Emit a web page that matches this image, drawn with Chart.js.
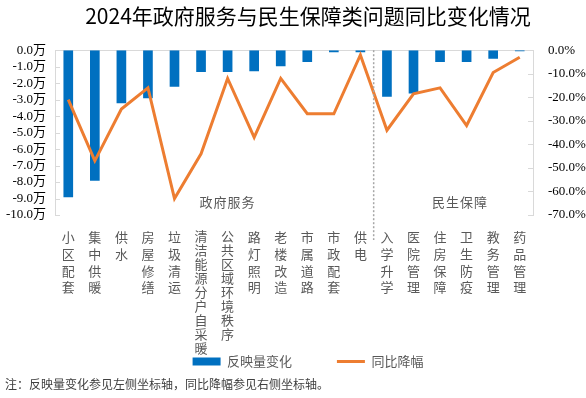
<!DOCTYPE html>
<html>
<head>
<meta charset="utf-8">
<script src="https://cdn.jsdelivr.net/npm/chart.js@4"></script>
<style>
  body { margin: 0; background: #fff; }
  #wrap { position: relative; width: 586px; height: 398px; }
  #note {
    position: absolute; left: 5px; top: 375px;
    font: 12px 'Noto Sans CJK SC', sans-serif; color: #404040;
  }
</style>
</head>
<body>
<div id="wrap">
  <canvas id="chart" width="586" height="398"></canvas>
  <div id="note">注：反映量变化参见左侧坐标轴，同比降幅参见右侧坐标轴。</div>
</div>
<script>
// 分类（竖排显示）
const categories = [
  '小区配套', '集中供暖', '供水', '房屋修缮', '垃圾清运', '清洁能源分户自采暖',
  '公共区域环境秩序', '路灯照明', '老楼改造', '市属道路', '市政配套', '供电',
  '入学升学', '医院管理', '住房保障', '卫生防疫', '教务管理', '药品管理'
];
// 反映量变化（万）
const volumeChange = [-8.9, -7.9, -3.2, -2.9, -2.2, -1.3, -1.3, -1.25, -0.95, -0.7, -0.1, -0.1,
  -2.8, -2.6, -0.7, -0.7, -0.5, -0.05];
// 同比降幅（%）
const yoyDrop = [-21, -47, -25, -16, -63, -44, -12, -37, -12, -27, -27, -2,
  -34, -18.5, -16, -32, -9.5, -3];
// 分组
const groups = [
  { name: '政府服务', at: 6 },
  { name: '民生保障', at: 14.75 }
];
const splitAfter = 11; // 供电 与 入学升学 之间

const numFont = "'Liberation Serif', 'Noto Sans CJK SC', serif";
const cjkFont = "'Noto Sans CJK SC', sans-serif";
const axisGray = '#d9d9d9';

// 竖排标签：每个字一行
const verticalLabels = categories.map(c => c.split(''));

const extrasPlugin = {
  id: 'extras',
  afterDraw(chart) {
    const { ctx, chartArea, scales } = chart;
    const x = scales.x;

    // 内向刻度线
    ctx.save();
    ctx.strokeStyle = axisGray;
    ctx.lineWidth = 1;
    scales.y.ticks.forEach((t, i) => {
      const yy = Math.round(scales.y.getPixelForTick(i)) + 0.5;
      ctx.beginPath();
      ctx.moveTo(chartArea.left, yy);
      ctx.lineTo(chartArea.left + 5, yy);
      ctx.stroke();
    });
    scales.y1.ticks.forEach((t, i) => {
      const yy = Math.round(scales.y1.getPixelForTick(i)) + 0.5;
      ctx.beginPath();
      ctx.moveTo(chartArea.right - 5, yy);
      ctx.lineTo(chartArea.right, yy);
      ctx.stroke();
    });

    // 分组虚线
    const sx = (x.getPixelForValue(splitAfter) + x.getPixelForValue(splitAfter + 1)) / 2;
    ctx.strokeStyle = '#a6a6a6';
    ctx.lineWidth = 1.5;
    ctx.setLineDash([2, 2]);
    ctx.beginPath();
    ctx.moveTo(sx, chartArea.top);
    ctx.lineTo(sx, chartArea.bottom + 25);
    ctx.stroke();
    ctx.setLineDash([]);

    // 分组名称
    ctx.fillStyle = '#595959';
    ctx.font = '13px ' + cjkFont;
    ctx.textAlign = 'center';
    ctx.textBaseline = 'middle';
    if ('letterSpacing' in ctx) ctx.letterSpacing = '1px';
    groups.forEach(g => {
      ctx.fillText(g.name, x.getPixelForValue(g.at), chartArea.bottom - 13);
    });
    ctx.restore();
  }
};

const ctx = document.getElementById('chart').getContext('2d');
new Chart(ctx, {
  data: {
    labels: verticalLabels,
    datasets: [
      {
        type: 'line',
        label: '同比降幅',
        data: yoyDrop,
        yAxisID: 'y1',
        borderColor: '#ED7D31',
        backgroundColor: '#ED7D31',
        borderWidth: 3,
        pointRadius: 0,
        tension: 0
      },
      {
        type: 'bar',
        label: '反映量变化',
        data: volumeChange,
        yAxisID: 'y',
        backgroundColor: '#0070C0',
        barThickness: 9
      }
    ]
  },
  options: {
    responsive: false,
    animation: false,
    layout: { padding: { left: 0, right: -30, top: 0, bottom: 20 } },
    plugins: {
      tooltip: { enabled: false },
      title: {
        display: true,
        text: '2024年政府服务与民生保障类问题同比变化情况',
        color: '#000',
        font: { size: 21, family: cjkFont, weight: 'normal' },
        padding: { top: 3, bottom: 22 }
      },
      legend: {
        position: 'bottom',
        labels: {
          usePointStyle: true,
          pointStyleWidth: 28,
          boxHeight: 8,
          padding: 0,
          color: '#595959',
          font: { size: 13, family: cjkFont },
          generateLabels(chart) {
            const items = Chart.defaults.plugins.legend.labels.generateLabels(chart);
            const bar = items.find(it => it.text === '反映量变化');
            const line = items.find(it => it.text === '同比降幅');
            bar.pointStyle = 'rect';
            bar.lineWidth = 0;
            bar.text = bar.text + '\u3000\u3000\u3000  ';
            line.pointStyle = 'line';
            line.lineWidth = 3;
            return [bar, line];
          }
        }
      }
    },
    scales: {
      x: {
        grid: { display: false },
        border: { display: false },
        ticks: {
          autoSkip: false,
          maxRotation: 0,
          minRotation: 0,
          padding: 6,
          color: '#595959',
          // 长标签字距收紧
          font: c => ({
            size: 13,
            family: cjkFont,
            lineHeight: categories[c.index] && categories[c.index].length > 4 ? 14 / 13 : 16.7 / 13
          })
        },
        afterFit(scale) { scale.height = 140; }
      },
      y: {
        position: 'left',
        min: -10,
        max: 0,
        border: { display: true, color: axisGray },
        grid: {
          drawTicks: false,
          color: c => (c.tick && c.tick.value === 0 ? axisGray : 'rgba(0,0,0,0)')
        },
        ticks: {
          stepSize: 1,
          autoSkip: false,
          padding: 9,
          color: '#000',
          font: { size: 13, family: numFont },
          callback: v => v.toFixed(1) + '万'
        },
        afterFit(scale) { scale.width = 55; }
      },
      y1: {
        position: 'right',
        min: -70,
        max: 0,
        border: { display: true, color: axisGray },
        grid: { display: false, drawOnChartArea: false },
        ticks: {
          stepSize: 10,
          autoSkip: false,
          padding: 7,
          color: '#000',
          font: { size: 13, family: numFont },
          callback: v => v.toFixed(1) + '%'
        },
        afterFit(scale) { scale.width = 83; }
      }
    }
  },
  plugins: [extrasPlugin]
});
</script>
</body>
</html>
